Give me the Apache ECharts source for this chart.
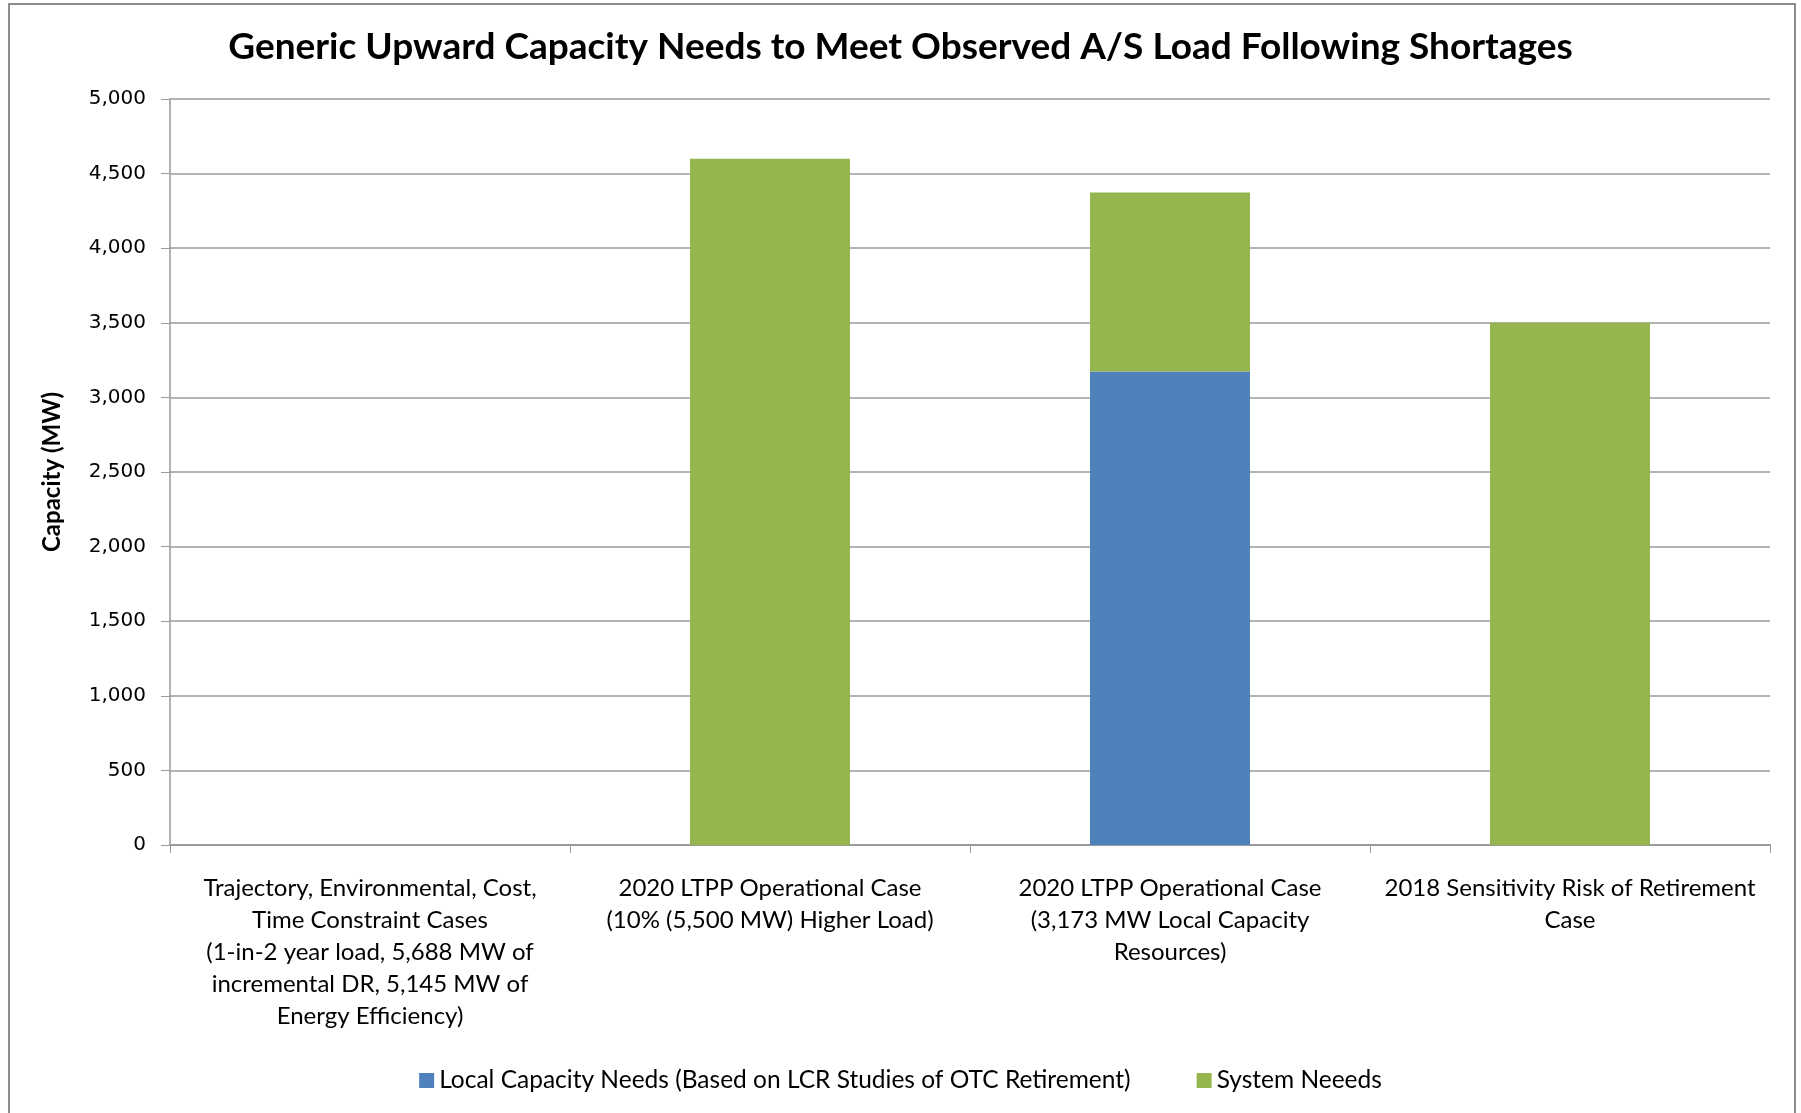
<!DOCTYPE html>
<html>
<head>
<meta charset="utf-8">
<title>Generic Upward Capacity Needs</title>
<script src="https://cdn.jsdelivr.net/npm/echarts@6/dist/echarts.min.js"></script>
<style>
  html, body { margin: 0; padding: 0; background: #ffffff; }
  #chart { width: 1801px; height: 1113px; }
</style>
</head>
<body>
<div id="chart"></div>
<script>
// Cases shown along the category axis
const categories = [
  'Trajectory, Environmental, Cost,\nTime Constraint Cases\n(1-in-2 year load, 5,688 MW of\nincremental DR, 5,145 MW of\nEnergy Efficiency)',
  '2020 LTPP Operational Case\n(10% (5,500 MW) Higher Load)',
  '2020 LTPP Operational Case\n(3,173 MW Local Capacity\nResources)',
  '2018 Sensitivity Risk of Retirement\nCase'
];

// Capacity needs in MW, stacked per case
const localCapacityNeeds = [null, null, 3173, null];
const systemNeeds = [null, 4600, 1200, 3500];

const seriesNames = [
  'Local Capacity Needs (Based on LCR Studies of OTC Retirement)',
  'System Neeeds'
];

const chart = echarts.init(document.getElementById('chart'), null, { renderer: 'canvas' });

const gridColor = '#9a9a9a';
const textFont = 'Lato, "Open Sans", sans-serif';

chart.setOption({
  backgroundColor: '#ffffff',
  animation: false,
  title: {
    text: 'Generic Upward Capacity Needs to Meet Observed A/S Load Following Shortages',
    left: 'center',
    top: 24,
    textStyle: {
      fontFamily: textFont,
      fontWeight: 'bold',
      fontSize: 37,
      color: '#000000'
    }
  },
  legend: {
    bottom: 15,
    left: 'center',
    itemWidth: 15,
    itemHeight: 15,
    itemGap: 66,
    icon: 'rect',
    textStyle: {
      fontFamily: textFont,
      fontSize: 24.5,
      color: '#000000'
    },
    data: seriesNames
  },
  grid: {
    left: 170,
    right: 31,
    top: 99,
    bottom: 268,
    containLabel: false
  },
  xAxis: {
    type: 'category',
    data: categories,
    boundaryGap: true,
    axisLine: { show: true, lineStyle: { color: gridColor, width: 2 } },
    axisTick: { show: true, alignWithLabel: false, length: 8, lineStyle: { color: gridColor, width: 1 } },
    axisLabel: {
      interval: 0,
      margin: 27,
      fontFamily: textFont,
      fontSize: 24,
      lineHeight: 32,
      color: '#000000',
      align: 'center'
    }
  },
  yAxis: {
    type: 'value',
    min: 0,
    max: 5000,
    interval: 500,
    name: 'Capacity (MW)',
    nameLocation: 'middle',
    nameRotate: 90,
    nameGap: 106,
    nameTextStyle: {
      fontFamily: textFont,
      fontWeight: 'bold',
      fontSize: 24,
      color: '#000000'
    },
    axisLine: { show: true, lineStyle: { color: gridColor, width: 1.5 } },
    axisTick: { show: true, inside: false, length: 9, lineStyle: { color: gridColor } },
    axisLabel: {
      margin: 24,
      fontFamily: '"DejaVu Sans", Verdana, sans-serif',
      fontSize: 20,
      color: '#000000',
      formatter: function (v) { return v.toLocaleString('en-US'); }
    },
    splitLine: { show: true, lineStyle: { color: gridColor, width: 1.5 } }
  },
  series: [
    {
      name: seriesNames[0],
      type: 'bar',
      stack: 'needs',
      barWidth: '40%',
      itemStyle: { color: '#4f81bd' },
      data: localCapacityNeeds
    },
    {
      name: seriesNames[1],
      type: 'bar',
      stack: 'needs',
      barWidth: '40%',
      itemStyle: { color: '#95b64f' },
      data: systemNeeds
    }
  ],
  graphic: [
    {
      type: 'rect',
      shape: { x: 9, y: 4, width: 1786, height: 1130 },
      style: { fill: 'none', stroke: '#8c8c8c', lineWidth: 2 },
      silent: true
    }
  ]
});
</script>
</body>
</html>
